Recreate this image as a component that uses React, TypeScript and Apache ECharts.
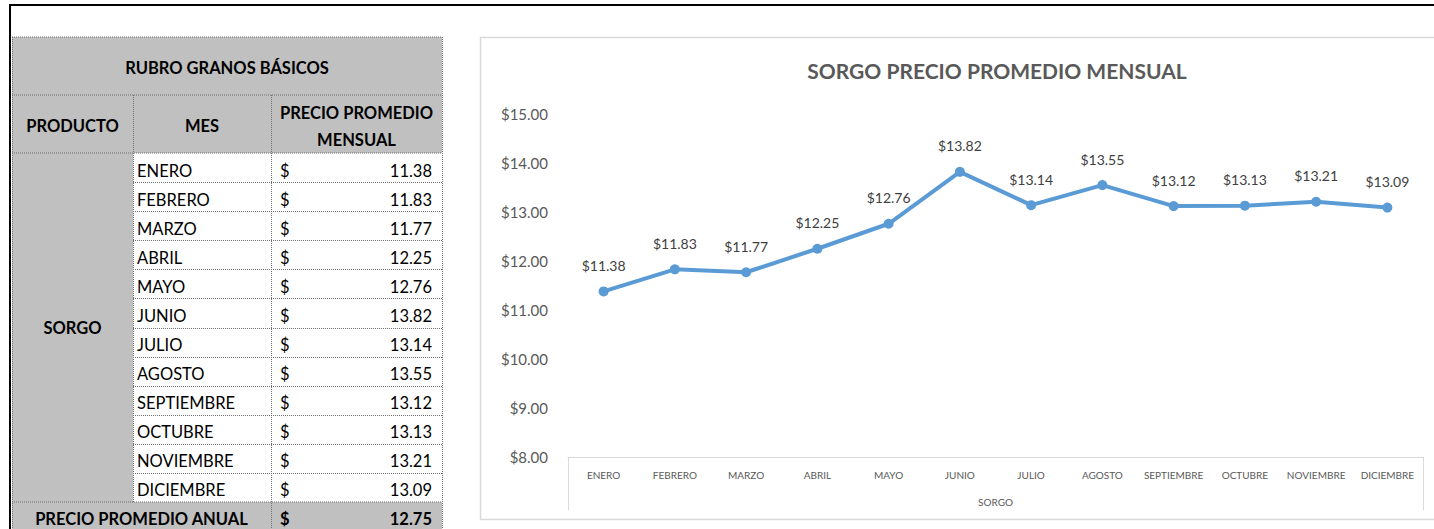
import React, { useEffect, useRef } from "react";
import * as echarts from "echarts";

const months = ["ENERO", "FEBRERO", "MARZO", "ABRIL", "MAYO", "JUNIO", "JULIO", "AGOSTO", "SEPTIEMBRE", "OCTUBRE", "NOVIEMBRE", "DICIEMBRE"];
const prices = [11.38, 11.83, 11.77, 12.25, 12.76, 13.82, 13.14, 13.55, 13.12, 13.13, 13.21, 13.09];
const annualAverage = 12.75;
const product = "SORGO";
const tableTitle = "RUBRO GRANOS BÁSICOS";
const headers = ["PRODUCTO", "MES", "PRECIO PROMEDIO\nMENSUAL"];
const annualLabel = "PRECIO PROMEDIO ANUAL";
const chartTitle = "SORGO PRECIO PROMEDIO MENSUAL";
const yMin = 8;
const yMax = 15;
const yInterval = 1;

const W = 1434;
const H = 529;
const FONT = 'Lato, "Open Sans", sans-serif';
const GRAY = "#C0C0C0";
const DOT = "#6f6f6f";

const GRID_LEFT = 568;
const GRID_RIGHT = 11;
const GRID_TOP = 114;
const GRID_BOTTOM = 72;

function buildTable() {
  const els: any[] = [];
  const colX = [12, 133, 271, 442];
  const h1 = 37, h2 = 95, bodyTop = 153, bodyBottom = 502, tableBottom = 545;
  const rowH = (bodyBottom - bodyTop) / months.length;
  const tableW = colX[3] - colX[0];

  const rect = (x: number, y: number, w: number, h: number, fill: string) => ({
    type: "rect", shape: { x, y, width: w, height: h }, style: { fill }, z: 1, silent: true,
  });
  const line = (x1: number, y1: number, x2: number, y2: number) => ({
    type: "line", shape: { x1, y1, x2, y2 }, style: { stroke: DOT, lineWidth: 1, lineDash: [1, 1] }, z: 2, silent: true,
  });
  const text = (t: string, x: number, y: number, align: string, bold: boolean, size = 16.5) => ({
    type: "text", z: 3, silent: true,
    style: { text: t, x, y, align, verticalAlign: "middle", fill: "#000", fontFamily: FONT, fontSize: size, fontWeight: bold ? "bold" : "normal", lineHeight: 27 },
  });

  els.push(rect(colX[0], h1, tableW, h2 - h1, GRAY));
  els.push(rect(colX[0], h2, tableW, bodyTop - h2, GRAY));
  els.push(rect(colX[0], bodyTop, colX[1] - colX[0], bodyBottom - bodyTop, GRAY));
  els.push(rect(colX[1], bodyTop, colX[3] - colX[1], bodyBottom - bodyTop, "#fff"));
  els.push(rect(colX[0], bodyBottom, tableW, tableBottom - bodyBottom, GRAY));

  // borders
  els.push(line(colX[0], h1, colX[3], h1));
  els.push(line(colX[0], h2, colX[3], h2));
  els.push(line(colX[0], bodyTop, colX[3], bodyTop));
  for (let i = 1; i < months.length; i++) {
    const y = Math.round(bodyTop + i * rowH) + 0.5;
    els.push(line(colX[1], y, colX[3], y));
  }
  els.push(line(colX[0], bodyBottom, colX[3], bodyBottom));
  els.push(line(colX[0] + 0.5, h1, colX[0] + 0.5, H));
  els.push(line(colX[3] + 0.5, h1, colX[3] + 0.5, H));
  els.push(line(colX[1] + 0.5, h2, colX[1] + 0.5, bodyBottom));
  els.push(line(colX[2] + 0.5, h2, colX[2] + 0.5, H));

  // texts
  els.push(text(tableTitle, (colX[0] + colX[3]) / 2, (h1 + h2) / 2 + 2, "center", true, 16.5));
  for (let c = 0; c < 3; c++) {
    els.push(text(headers[c], (colX[c] + colX[c + 1]) / 2, (h2 + bodyTop) / 2 + 2, "center", true, 16.5));
  }
  els.push(text(product, (colX[0] + colX[1]) / 2, (bodyTop + bodyBottom) / 2, "center", true, 16.5));
  months.forEach((m, i) => {
    const cy = bodyTop + i * rowH + rowH / 2 + 3;
    els.push(text(m, colX[1] + 4, cy, "left", false));
    els.push(text("$", colX[2] + 9, cy, "left", false));
    els.push(text(prices[i].toFixed(2), colX[3] - 10, cy, "right", false));
  });
  const fy = bodyBottom + 17;
  els.push(text(annualLabel, (colX[0] + colX[2]) / 2, fy, "center", true, 16.5));
  els.push(text("$", colX[2] + 9, fy, "left", true));
  els.push(text(annualAverage.toFixed(2), colX[3] - 10, fy, "right", true));

  // black frame
  els.push({ type: "line", shape: { x1: 9, y1: 5, x2: W, y2: 5 }, style: { stroke: "#000", lineWidth: 2 }, z: 5, silent: true });
  els.push({ type: "line", shape: { x1: 10, y1: 4, x2: 10, y2: H }, style: { stroke: "#000", lineWidth: 2 }, z: 5, silent: true });

  // chart frame
  els.push({ type: "rect", shape: { x: 480.5, y: 37.5, width: 1000, height: 482 }, style: { fill: "none", stroke: "#d9d9d9", lineWidth: 1.5 }, z: 0, silent: true });

  // category box verticals
  const axisY = H - GRID_BOTTOM;
  els.push({ type: "line", shape: { x1: GRID_LEFT + 0.5, y1: axisY, x2: GRID_LEFT + 0.5, y2: axisY + 53 }, style: { stroke: "#d9d9d9", lineWidth: 1 }, z: 2, silent: true });
  els.push({ type: "line", shape: { x1: W - GRID_RIGHT + 0.5, y1: axisY, x2: W - GRID_RIGHT + 0.5, y2: axisY + 53 }, style: { stroke: "#d9d9d9", lineWidth: 1 }, z: 2, silent: true });
  return els;
}

export default function App() {
  const ref = useRef<HTMLDivElement>(null);
  useEffect(() => {
    if (!ref.current) return;
    const chart = echarts.init(ref.current, null, { renderer: "svg" });
    chart.setOption({
      animation: false,
      backgroundColor: "#fff",
      title: {
        text: chartTitle,
        left: 992,
        top: 55,
        textAlign: "center",
        textStyle: { fontFamily: FONT, fontSize: 21, fontWeight: "bold", color: "#595959" },
      },
      grid: { left: GRID_LEFT, right: GRID_RIGHT, top: GRID_TOP, bottom: GRID_BOTTOM, containLabel: false },
      xAxis: {
        type: "category",
        data: months,
        boundaryGap: true,
        name: product,
        nameLocation: "middle",
        nameGap: 40,
        nameTextStyle: { fontFamily: FONT, fontSize: 10, color: "#595959" },
        axisLine: { show: true, lineStyle: { color: "#d9d9d9", width: 1 } },
        axisTick: { show: false },
        axisLabel: { fontFamily: FONT, fontSize: 10, color: "#595959", margin: 13, interval: 0 },
        splitLine: { show: false },
      },
      yAxis: {
        type: "value",
        min: yMin,
        max: yMax,
        interval: yInterval,
        axisLine: { show: false },
        axisTick: { show: false },
        splitLine: { show: false },
        axisLabel: {
          fontFamily: FONT, fontSize: 15, color: "#595959", margin: 20,
          formatter: (v: number) => "$" + v.toFixed(2),
        },
      },
      series: [
        {
          type: "line",
          data: prices,
          symbol: "circle",
          symbolSize: 10,
          lineStyle: { color: "#5B9BD5", width: 4 },
          itemStyle: { color: "#5B9BD5" },
          label: {
            show: true,
            position: "top",
            distance: 14,
            fontFamily: FONT,
            fontSize: 14,
            color: "#404040",
            formatter: (p: any) => "$" + Number(p.value).toFixed(2),
          },
          z: 4,
        },
      ],
      graphic: buildTable(),
    });
    return () => chart.dispose();
  }, []);
  return <div ref={ref} style={{ position: "absolute", left: 0, top: 0, width: W, height: H }} />;
}
